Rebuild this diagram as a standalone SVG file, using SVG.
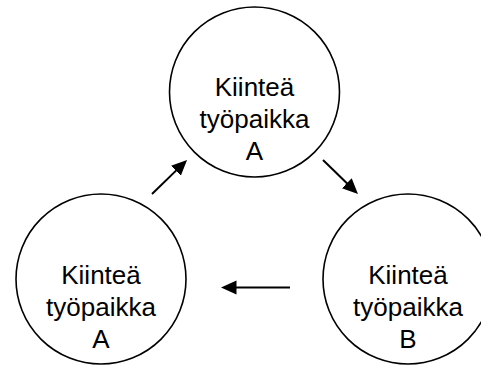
<svg xmlns="http://www.w3.org/2000/svg" width="481" height="365" viewBox="0 0 481 365">
<style>
.node circle{fill:#fff;stroke:#000;stroke-width:1.6}
.node text{font-family:"Liberation Sans",Arial,sans-serif;font-size:26px;fill:#000;text-anchor:middle}
.edge{stroke:#000;stroke-width:2;fill:none}
</style>
<defs>
<marker id="ah" markerUnits="userSpaceOnUse" markerWidth="17" markerHeight="16" refX="0.5" refY="7" orient="auto">
<path d="M0,0 L15.5,7 L0,14 z" fill="#000"/>
</marker>
</defs>
<rect width="481" height="365" fill="#fff"/>
<g id="node-top" class="node">
<circle cx="254.5" cy="92" r="85"/>
<text x="254.5" y="96">Kiinteä</text>
<text x="254.5" y="128">työpaikka</text>
<text x="254.5" y="160">A</text>
</g>
<g id="node-left" class="node">
<circle cx="101" cy="279" r="85"/>
<text x="101" y="283.5">Kiinteä</text>
<text x="101" y="315.5">työpaikka</text>
<text x="101" y="347.5">A</text>
</g>
<g id="node-right" class="node">
<circle cx="408" cy="279" r="85"/>
<text x="408" y="283.5">Kiinteä</text>
<text x="408" y="315.5">työpaikka</text>
<text x="408" y="347.5">B</text>
</g>
<g id="connectors">
<line class="edge" x1="152" y1="194" x2="176.3" y2="170.4" marker-end="url(#ah)"/>
<line class="edge" x1="323" y1="160" x2="347.2" y2="183.5" marker-end="url(#ah)"/>
<line class="edge" x1="290" y1="287.5" x2="236" y2="287.5" marker-end="url(#ah)"/>
</g>
</svg>
